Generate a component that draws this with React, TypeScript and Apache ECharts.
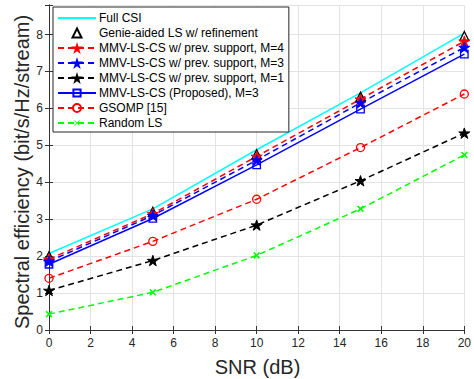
import React, { useEffect, useRef } from "react";
import * as echarts from "echarts";

const snr = [0, 5, 10, 15, 20];
const fullCSI = [2.07, 3.28, 4.88, 6.42, 8.04];
const genie = [2.0, 3.2, 4.76, 6.32, 7.96];
const mmvM4 = [1.92, 3.15, 4.7, 6.25, 7.82];
const mmvM3 = [1.86, 3.1, 4.6, 6.15, 7.65];
const mmvM1 = [1.07, 1.88, 2.84, 4.04, 5.33];
const proposed = [1.78, 3.02, 4.47, 5.98, 7.47];
const gsomp = [1.4, 2.4, 3.54, 4.94, 6.39];
const randomLS = [0.43, 1.02, 2.02, 3.28, 4.74];

const seriesNames = [
  "Full CSI",
  "Genie-aided LS w/ refinement",
  "MMV-LS-CS w/ prev. support, M=4",
  "MMV-LS-CS w/ prev. support, M=3",
  "MMV-LS-CS w/ prev. support, M=1",
  "MMV-LS-CS (Proposed), M=3",
  "GSOMP [15]",
  "Random LS",
];

const xTitle = "SNR (dB)";
const yTitle = "Spectral efficiency (bit/s/Hz/stream)";

const STAR =
  "path://M50 0 L61.23 34.55 L97.55 34.55 L68.16 55.9 L79.39 90.45 L50 69.1 L20.61 90.45 L31.84 55.9 L2.45 34.55 L38.77 34.55 Z";
// padded symbols (the bounding box includes the corner move-to points)
const TRI = "path://M0 0 M100 100 M50 12.5 L87.5 87.5 L12.5 87.5 Z";
const SQUARE = "path://M0 0 M100 100 M20 20 L80 20 L80 80 L20 80 Z";
const RING =
  "path://M0 0 M100 100 M83.5 50 A33.5 33.5 0 1 1 16.5 50 A33.5 33.5 0 1 1 83.5 50 Z";
const CROSS =
  "path://M0 0 M100 100 M27 32 L32 27 L50 45 L68 27 L73 32 L55 50 L73 68 L68 73 L50 55 L32 73 L27 68 L45 50 Z";

const FONT = "'Liberation Sans', Arial, Helvetica, sans-serif";
const DASH = [6, 4];

function pairs(ys: number[]) {
  return snr.map((x, i) => [x, ys[i]]);
}

export default function App() {
  const ref = useRef<HTMLDivElement>(null);
  useEffect(() => {
    document.body.style.margin = "0";
    if (!ref.current) return;
    const chart = echarts.init(ref.current, undefined, { renderer: "svg" });

    const mk = (
      name: string,
      data: number[],
      color: string,
      symbol: string,
      symbolSize: number,
      dashed: boolean,
      opts: any = {}
    ) => ({
      type: "line",
      name,
      data: pairs(data),
      color,
      symbol,
      symbolSize,
      symbolKeepAspect: true,
      showSymbol: opts.showSymbol ?? true,
      lineStyle: { color, width: 1.5, type: dashed ? DASH : "solid", ...(opts.lineStyle || {}) },
      itemStyle: opts.itemStyle || { color, borderColor: color },
      z: 2,
      animation: false,
    });

    const hollow = (c: string) => ({ color: "rgba(0,0,0,0)", borderColor: c, borderWidth: 1.3 });
    const invisible = { color: "rgba(0,0,0,0)", borderColor: "rgba(0,0,0,0)", borderWidth: 0 };

    const series: any[] = [
      mk(seriesNames[0], fullCSI, "#00ffff", "circle", 1, false, { showSymbol: false, itemStyle: invisible }),
      mk(seriesNames[1], genie, "#000000", TRI, 12, false, {
        lineStyle: { width: 0, opacity: 0 },
        itemStyle: hollow("#000000"),
      }),
      mk(seriesNames[2], mmvM4, "#ff0000", STAR, 11, true),
      mk(seriesNames[3], mmvM3, "#0000ff", STAR, 11, true),
      mk(seriesNames[4], mmvM1, "#000000", STAR, 11, true),
      mk(seriesNames[5], proposed, "#0000ff", SQUARE, 12.5, false, { itemStyle: hollow("#0000ff") }),
      mk(seriesNames[6], gsomp, "#ff0000", RING, 12, true, { itemStyle: hollow("#ff0000") }),
      mk(seriesNames[7], randomLS, "#00ff00", CROSS, 13, true),
    ];

    const axisColor = "#333333";
    const labelColor = "#262626";

    chart.setOption({
      animation: false,
      backgroundColor: "#ffffff",
      textStyle: { fontFamily: FONT },
      grid: { left: 49, right: 8, top: 5, bottom: 49, containLabel: false },
      xAxis: [
        {
          type: "value",
          min: 0,
          max: 20,
          interval: 2,
          axisLine: { show: true, lineStyle: { color: axisColor, width: 1 } },
          axisTick: { show: true, inside: true, length: 4, lineStyle: { color: axisColor } },
          axisLabel: { color: labelColor, fontSize: 12, margin: 7, fontFamily: FONT },
          splitLine: { show: true, lineStyle: { color: "#e3e3e3", width: 1 } },
        },
        {
          type: "value",
          position: "top",
          min: 0,
          max: 20,
          interval: 2,
          axisLine: { show: true, lineStyle: { color: axisColor, width: 1 } },
          axisTick: { show: true, inside: true, length: 4, lineStyle: { color: axisColor } },
          axisLabel: { show: false },
          splitLine: { show: false },
        },
      ],
      yAxis: [
        {
          type: "value",
          min: 0,
          max: 8.8,
          interval: 1,
          axisLine: { show: true, lineStyle: { color: axisColor, width: 1 } },
          axisTick: { show: true, inside: true, length: 4, lineStyle: { color: axisColor } },
          axisLabel: {
            color: labelColor,
            fontSize: 12,
            margin: 6,
            fontFamily: FONT,
            formatter: (v: number) => (Number.isInteger(v) ? String(v) : ""),
          },
          splitLine: { show: true, lineStyle: { color: "#e3e3e3", width: 1 } },
        },
        {
          type: "value",
          position: "right",
          min: 0,
          max: 8.8,
          interval: 1,
          axisLine: { show: true, lineStyle: { color: axisColor, width: 1 } },
          axisTick: { show: true, inside: true, length: 4, lineStyle: { color: axisColor } },
          axisLabel: { show: false },
          splitLine: { show: false },
        },
      ],
      legend: {
        show: true,
        orient: "vertical",
        left: 53,
        top: 7,
        data: seriesNames,
        itemWidth: 38,
        itemHeight: 15,
        itemGap: 1,
        padding: [4, 5, 2, 4],
        borderColor: "#262626",
        borderWidth: 1,
        borderRadius: 0,
        backgroundColor: "#ffffff",
        textStyle: {
          fontSize: 12,
          color: "#000000",
          fontFamily: FONT,
          lineHeight: 14,
          height: 14,
          padding: [0, 0, 0, -2],
        },
        selectedMode: false,
      },
      graphic: [
        {
          type: "text",
          x: 257.5,
          y: 367,
          style: {
            text: xTitle,
            fontSize: 20,
            fontFamily: FONT,
            fill: labelColor,
            textAlign: "center",
            textVerticalAlign: "middle",
          },
        },
        {
          type: "text",
          x: 22,
          y: 172,
          rotation: Math.PI / 2,
          style: {
            text: yTitle,
            fontSize: 20,
            fontFamily: FONT,
            fill: labelColor,
            textAlign: "center",
            textVerticalAlign: "middle",
          },
        },
      ],
      series,
    });
    return () => chart.dispose();
  }, []);
  return <div ref={ref} style={{ width: 474, height: 379 }} />;
}
